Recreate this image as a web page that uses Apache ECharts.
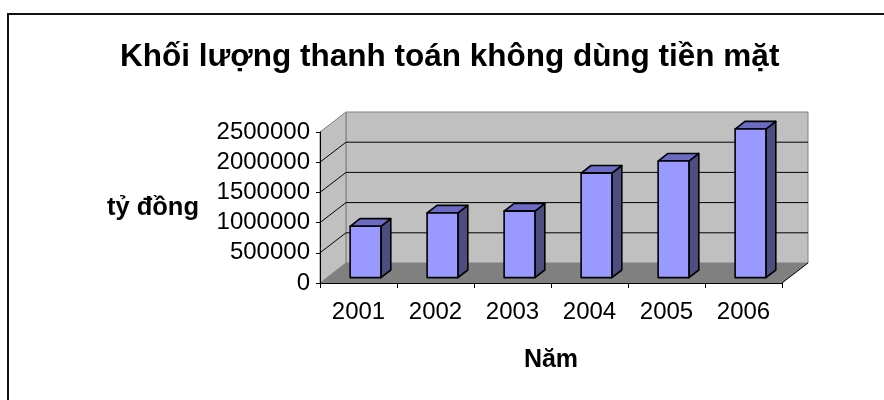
<!DOCTYPE html>
<html>
<head>
<meta charset="utf-8">
<script src="https://cdn.jsdelivr.net/npm/echarts@6/dist/echarts.min.js"></script>
<style>
html,body{margin:0;padding:0;background:#fff;}
#chart{width:884px;height:400px;}
</style>
</head>
<body>
<div id="chart"></div>
<script>
// ---- data ----
var titleText = 'Khối lượng thanh toán không dùng tiền mặt';
var xAxisTitle = 'Năm';
var yAxisTitle = 'tỷ đồng';
var categories = ['2001', '2002', '2003', '2004', '2005', '2006'];
var values = [850000, 1070000, 1100000, 1730000, 1930000, 2460000];
var yTicks = [0, 500000, 1000000, 1500000, 2000000, 2500000];

// ---- 3D look parameters ----
var DX = 26, DY = -20;      // wall depth offset
var T0 = 0.27, T1 = 0.65;   // bar depth position (fraction of wall depth)
var BAR_FRAC = 0.4;
var FONT = '"Liberation Sans", Arial, sans-serif';

var chart = echarts.init(document.getElementById('chart'), null, {renderer: 'canvas'});

function wallsRender(params, api) {
  var cs = params.coordSys;
  var x0 = cs.x, x1 = cs.x + cs.width;
  var y0 = api.coord([0, yTicks[0]])[1];
  var yTop = api.coord([0, yTicks[yTicks.length - 1]])[1];
  var children = [];
  children.push({type: 'polygon', shape: {points: [[x0 + DX, yTop + DY], [x1 + DX, yTop + DY], [x1 + DX, y0 + DY], [x0 + DX, y0 + DY]]},
    style: {fill: '#C0C0C0', stroke: '#808080', lineWidth: 1}});
  children.push({type: 'polygon', shape: {points: [[x0, y0], [x0, yTop], [x0 + DX, yTop + DY], [x0 + DX, y0 + DY]]},
    style: {fill: '#C0C0C0', stroke: '#808080', lineWidth: 1}});
  children.push({type: 'polygon', shape: {points: [[x0, y0], [x1, y0], [x1 + DX, y0 + DY], [x0 + DX, y0 + DY]]},
    style: {fill: '#808080', stroke: null}});
  children.push({type: 'line', shape: {x1: x1, y1: y0, x2: x1 + DX, y2: y0 + DY}, style: {stroke: '#000', lineWidth: 1}});
  for (var i = 1; i < yTicks.length - 1; i++) {
    var y = api.coord([0, yTicks[i]])[1];
    children.push({type: 'line', shape: {x1: x0 + DX, y1: y + DY, x2: x1 + DX, y2: y + DY}, style: {stroke: '#000', lineWidth: 1}});
    children.push({type: 'line', shape: {x1: x0, y1: y, x2: x0 + DX, y2: y + DY}, style: {stroke: '#000', lineWidth: 1}});
  }
  return {type: 'group', children: children};
}

function barRender(params, api) {
  var idx = api.value(0);
  var v = api.value(1);
  var base = api.coord([idx, 0]);
  var top = api.coord([idx, v]);
  var w = api.size([1, 0])[0] * BAR_FRAC;
  var ox = T0 * DX, oy = T0 * DY;
  var dx = (T1 - T0) * DX, dy = (T1 - T0) * DY;
  var xl = base[0] - w / 2 + ox, xr = base[0] + w / 2 + ox;
  var yb = base[1] + oy, yt = top[1] + oy;
  var st = {stroke: '#000', lineWidth: 1.6, lineJoin: 'round'};
  return {type: 'group', children: [
    {type: 'polygon', shape: {points: [[xr, yb], [xr, yt], [xr + dx, yt + dy], [xr + dx, yb + dy]]},
      style: Object.assign({fill: '#4D4D80'}, st)},
    {type: 'polygon', shape: {points: [[xl, yt], [xr, yt], [xr + dx, yt + dy], [xl + dx, yt + dy]]},
      style: Object.assign({fill: '#6B6BC4'}, st)},
    {type: 'polygon', shape: {points: [[xl, yb], [xr, yb], [xr, yt], [xl, yt]]},
      style: Object.assign({fill: '#9999FF'}, st)}
  ]};
}

var option = {
  animation: false,
  backgroundColor: '#fff',
  textStyle: {fontFamily: FONT},
  title: {
    text: titleText,
    left: 120,
    top: 41,
    padding: 0,
    textStyle: {fontFamily: FONT, fontSize: 31.5, fontWeight: 'bold', color: '#000'}
  },
  graphic: [{
    type: 'rect', silent: true, z: 100,
    shape: {x: 8, y: 14, width: 1000, height: 500},
    style: {fill: 'none', stroke: '#111', lineWidth: 2}
  }],
  grid: {left: 320, right: 102, top: 132, bottom: 117, containLabel: false},
  xAxis: {
    type: 'category',
    data: categories,
    boundaryGap: true,
    z: 5,
    name: xAxisTitle,
    nameLocation: 'middle',
    nameGap: 65,
    nameTextStyle: {fontFamily: FONT, fontSize: 25, fontWeight: 'bold', color: '#000'},
    axisLine: {show: true, lineStyle: {color: '#000', width: 1}},
    axisTick: {show: true, length: 5, lineStyle: {color: '#000'}},
    axisLabel: {margin: 17, fontSize: 24, color: '#000', fontFamily: FONT},
    splitLine: {show: false}
  },
  yAxis: {
    type: 'value',
    min: yTicks[0],
    max: yTicks[yTicks.length - 1],
    interval: yTicks[1] - yTicks[0],
    z: 5,
    name: yAxisTitle,
    nameLocation: 'middle',
    nameRotate: 0,
    nameGap: 121,
    nameTextStyle: {fontFamily: FONT, fontSize: 25.5, fontWeight: 'bold', color: '#000', padding: [4, 0, 0, 0]},
    axisLine: {show: true, lineStyle: {color: '#000', width: 1}},
    axisTick: {show: true, length: 4, lineStyle: {color: '#000'}},
    axisLabel: {margin: 10, fontSize: 24, color: '#000', fontFamily: FONT,
      formatter: function (v) { return String(v); }},
    splitLine: {show: false}
  },
  series: [
    {type: 'custom', name: 'walls', z: 1, clip: false, silent: true, renderItem: wallsRender, data: [[0, 0]]},
    {type: 'custom', name: 'values', z: 6, clip: false, renderItem: barRender,
      data: values.map(function (v, i) { return [i, v]; })}
  ]
};
chart.setOption(option);
</script>
</body>
</html>
